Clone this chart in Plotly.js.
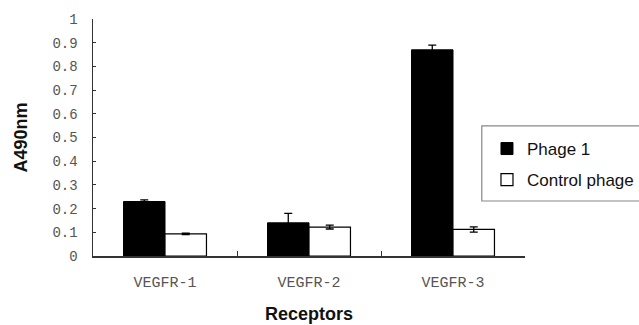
<!DOCTYPE html>
<html>
<head>
<meta charset="utf-8">
<script src="https://cdn.plot.ly/plotly-3.0.1.min.js"></script>
<style>html,body{margin:0;padding:0;background:#fff;}#chart{width:639px;height:325px;}</style>
</head>
<body>
<div id="chart"></div>
<script>
const categories = ["VEGFR-1", "VEGFR-2", "VEGFR-3"];
const phage1 = [0.23, 0.14, 0.87];
const phage1Err = [0.007, 0.04, 0.02];
const control = [0.093, 0.122, 0.112];
const controlErr = [0.003, 0.008, 0.011];
const seriesNames = ["Phage 1", "Control phage"];
const yTicks = [0, 0.1, 0.2, 0.3, 0.4, 0.5, 0.6, 0.7, 0.8, 0.9, 1];

const traces = [
  {
    type: "bar", x: categories, y: phage1, name: seriesNames[0],
    marker: {color: "#000", line: {color: "#000", width: 1}},
    error_y: {type: "data", array: phage1Err, visible: true, color: "#000", thickness: 1.3, width: 4},
    legend: "legend"
  },
  {
    type: "bar", x: categories, y: control, name: seriesNames[1],
    marker: {color: "#fff", line: {color: "#000", width: 1.2}},
    error_y: {type: "data", array: controlErr, visible: true, color: "#000", thickness: 1.3, width: 4},
    legend: "legend2"
  }
];

const sans = "Arial, Liberation Sans, sans-serif";
const mono = "Liberation Mono, monospace";

const layout = {
  width: 639, height: 325,
  margin: {l: 93, r: 114, t: 19, b: 69, autoexpand: false},
  paper_bgcolor: "#fff", plot_bgcolor: "#fff",
  barmode: "group", bargap: 0.424, bargroupgap: 0,
  showlegend: true,
  xaxis: {
    type: "category",
    showline: true, linecolor: "#333", linewidth: 1.5,
    ticks: "inside", ticklen: 5, tickcolor: "#333", tickwidth: 1, tickson: "boundaries",
    showgrid: false, zeroline: false,
    tickfont: {family: mono, size: 15, color: "#555"},
    ticklabelstandoff: 11,
    automargin: false,
    title: {text: "Receptors", font: {family: sans, size: 18, color: "#111", weight: "bold"}, standoff: 17}
  },
  yaxis: {
    range: [0, 1], tickmode: "array", tickvals: yTicks,
    showline: true, linecolor: "#333", linewidth: 1.5,
    ticks: "inside", ticklen: 3, tickcolor: "#333",
    showgrid: false, zeroline: false,
    tickfont: {family: mono, size: 14, color: "#555"},
    ticklabelstandoff: 11,
    automargin: false,
    title: {text: "A490nm", font: {family: sans, size: 18, color: "#111", weight: "bold"}, standoff: 20}
  },
  legend: {
    x: 0.912, y: 0.4515, xanchor: "left", yanchor: "middle",
    bgcolor: "rgba(0,0,0,0)", borderwidth: 0,
    font: {family: sans, size: 17, color: "#111"}
  },
  legend2: {
    x: 0.912, y: 0.3207, xanchor: "left", yanchor: "middle",
    bgcolor: "rgba(0,0,0,0)", borderwidth: 0,
    font: {family: sans, size: 17, color: "#111"}
  },
  shapes: [
    {type: "rect", xref: "paper", yref: "paper", x0: 0.900, x1: 1.4, y0: 0.232, y1: 0.549,
     line: {color: "#888", width: 1.2}, fillcolor: "rgba(0,0,0,0)", layer: "below"}
  ]
};

Plotly.newPlot("chart", traces, layout, {staticPlot: true, displayModeBar: false});
</script>
</body>
</html>
